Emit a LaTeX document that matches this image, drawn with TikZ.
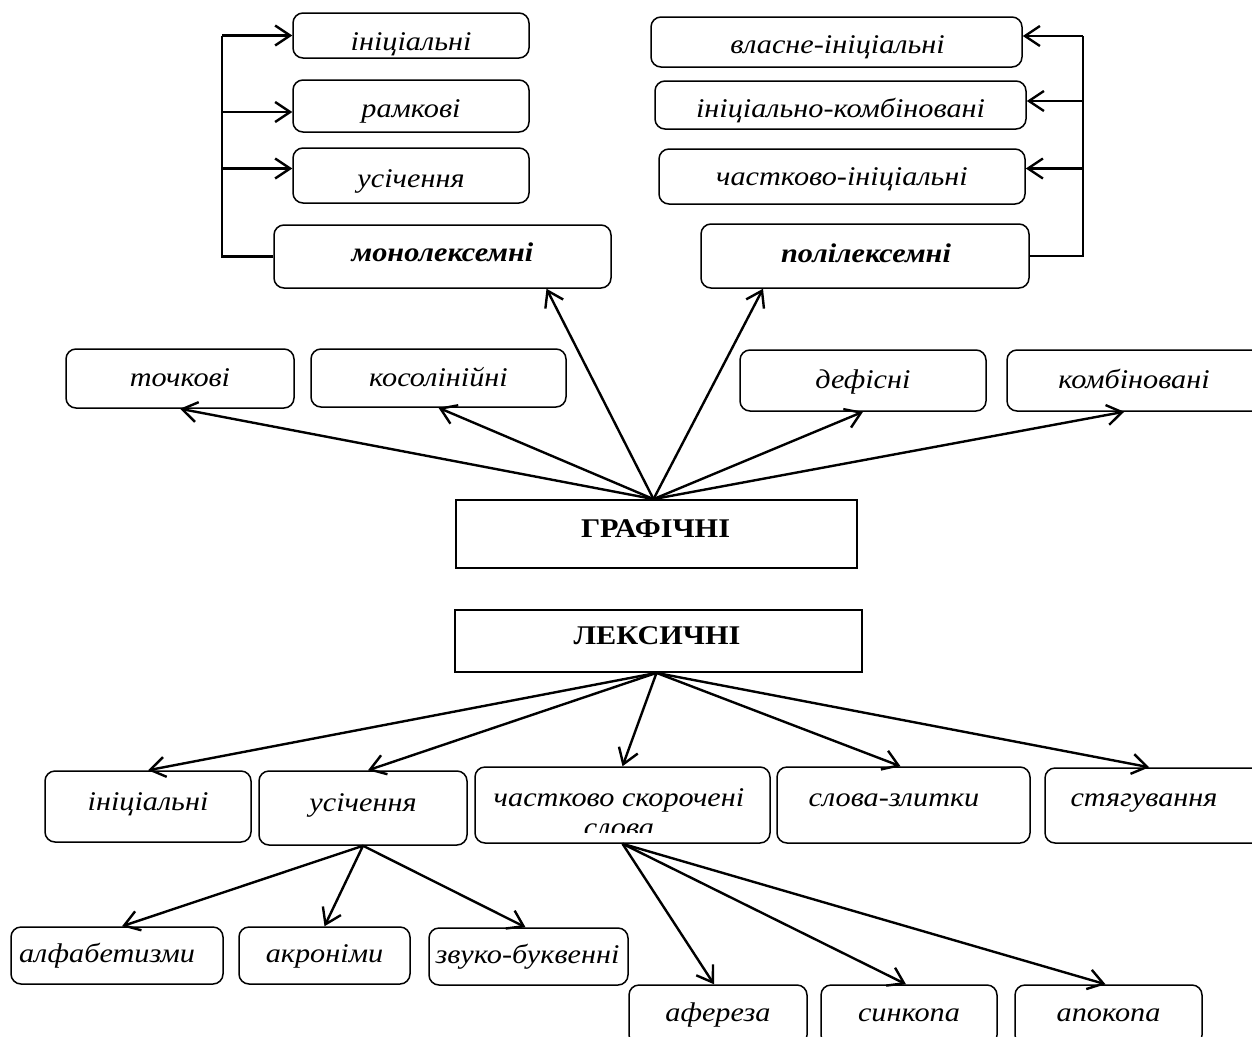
\documentclass[tikz,border=0pt]{standalone}
\usepackage{fontspec}
\setmainfont{Liberation Serif}[FakeStretch=1.12]
\usetikzlibrary{arrows.meta}
\tikzset{
  rbox/.style={draw, rounded corners=10pt, line width=1.5pt, inner sep=0pt,
    font=\fontsize{27}{31}\selectfont\itshape},
  sbox/.style={draw, line width=1.8pt, inner sep=0pt,
    font=\fontsize{27}{31}\selectfont\bfseries},
  lbl/.style={inner sep=0pt, font=\fontsize{27}{31}\selectfont\itshape},
  arr/.style={line width=2.4pt, -{Straight Barb[length=15pt,width=20pt]}},
  busl/.style={line width=2.4pt},
}
% #1 style, #2 name, #3 x1, #4 y1, #5 x2, #6 y2, #7 text dx, #8 text dy, #9 text
\newcommand\mkbox[9]{%
  \pgfmathsetmacro\mybw{#5-#3}\pgfmathsetmacro\mybh{#6-#4}%
  \pgfmathsetmacro\mycx{(#3+#5)/2}\pgfmathsetmacro\mycy{(#4+#6)/2}%
  \pgfmathsetmacro\mytth{22.4+2*(#8)}%
  \node[#1, minimum width=\mybw pt, minimum height=\mybh pt,
        text height=\mytth pt, text depth=6pt] (#2) at (\mycx,\mycy)
        {\hspace*{#7pt}\makebox[0pt]{#9}\hspace*{-#7pt}};}
\begin{document}
\begin{tikzpicture}[x=1pt,y=-1pt]
\useasboundingbox (0,0) rectangle (1252,1036);
\fill[white] (0,0) rectangle (1252,1036);
\clip (0,0) rectangle (1252,1036);

% top left
\mkbox{rbox}{a1}{293}{13}{529}{58}{0}{6.5}{ініціальні}
\mkbox{rbox}{a2}{293}{80}{529}{132}{0}{3}{рамкові}
\mkbox{rbox}{a3}{293}{148}{529}{203}{0}{4}{усічення}
\mkbox{rbox}{mono}{274}{225}{611}{288}{0}{-3}{\bfseries монолексемні}
% top right
\mkbox{rbox}{b1}{651}{17}{1022}{67}{1}{3}{власне-ініціальні}
\mkbox{rbox}{b2}{655}{81}{1026}{129}{0}{4}{ініціально-комбіновані}
\mkbox{rbox}{b3}{659}{149}{1025}{204}{0}{1}{частково-ініціальні}
\mkbox{rbox}{poly}{701}{224}{1029}{288}{1}{-2}{\bfseries полілексемні}
% middle row
\mkbox{rbox}{c1}{66}{349}{294}{408}{0}{0}{точкові}
\mkbox{rbox}{c2}{311}{349}{566}{407}{0}{0}{косолінійні}
\mkbox{rbox}{c3}{740}{350}{986}{411}{0}{0}{дефісні}
\mkbox{rbox}{c4}{1007}{350}{1270}{411}{-4.5}{0}{комбіновані}
% centre boxes
\mkbox{sbox}{graf}{456}{500}{857}{568}{-1}{-4.8}{ГРАФІЧНІ}
\mkbox{sbox}{lex}{455}{610}{862}{672}{-1.5}{-4.8}{ЛЕКСИЧНІ}
% lexical level
\mkbox{rbox}{d1}{45}{771}{251}{842}{0}{-4.5}{ініціальні}
\mkbox{rbox}{d2}{259}{771}{467}{845}{0}{-5}{усічення}
\mkbox{rbox}{d3}{475}{767}{770}{843}{0}{0}{}
\begin{scope}
  \clip (470,760) rectangle (780,832);
  \node[lbl, anchor=base] (d3a) at (619,806) {частково скорочені};
  \node[lbl, anchor=base] (d3b) at (619,836) {слова};
\end{scope}
\mkbox{rbox}{d4}{777}{767}{1030}{843}{-9.5}{-7}{слова-злитки}
\mkbox{rbox}{d5}{1045}{768}{1270}{843}{-13.5}{-7}{стягування}
% bottom rows
\mkbox{rbox}{e1}{11}{927}{223}{984}{-10}{-1}{алфабетизми}
\mkbox{rbox}{e2}{239}{927}{410}{984}{0}{-1}{акроніми}
\mkbox{rbox}{e3}{429}{928}{628}{985}{-1}{-1}{звуко-буквенні}
\mkbox{rbox}{f1}{629}{985}{807}{1045}{0}{-1.5}{афереза}
\mkbox{rbox}{f2}{821}{985}{997}{1045}{0}{-1.5}{синкопа}
\mkbox{rbox}{f3}{1015}{985}{1202}{1045}{0}{-1.5}{апокопа}

% buses
\coordinate (lbus) at (222,0);
\coordinate (rbus) at (1083,0);
\draw[busl] (mono.west) -- (mono.west -| lbus) -- (a1.west -| lbus);
\draw[arr] (a1.west -| lbus) -- (a1.west);
\draw[arr] ([yshift=-6pt]a2.west -| lbus) -- ([yshift=-6pt]a2.west);
\draw[arr] ([yshift=7pt]a3.west -| lbus) -- ([yshift=7pt]a3.west);
\draw[busl] (poly.east) -- (poly.east -| rbus) -- ([yshift=6pt]b1.east -| rbus);
\draw[arr] ([yshift=6pt]b1.east -| rbus) -- ([yshift=6pt]b1.east);
\draw[arr] ([yshift=4pt]b2.east -| rbus) -- ([yshift=4pt]b2.east);
\draw[arr] ([yshift=8pt]b3.east -| rbus) -- ([yshift=8pt]b3.east);

% graphic arrows
\coordinate (g0) at ([xshift=-3pt]graf.north);
\draw[arr] (g0) -- (c1.south);
\draw[arr] (g0) -- (c2.south);
\draw[arr] (g0) -- ([xshift=104pt]mono.south);
\draw[arr] (g0) -- ([xshift=-102pt]poly.south);
\draw[arr] (g0) -- (c3.south);
\draw[arr] (g0) -- ([xshift=118pt]c4.south west);

% lexical arrows
\coordinate (l0) at ([xshift=-2pt]lex.south);
\draw[arr] (l0) -- (d1.north);
\draw[arr] (l0) -- ([xshift=5pt]d2.north);
\draw[arr] (l0) -- (d3.north);
\draw[arr] (l0) -- ([xshift=-3pt]d4.north);
\draw[arr] (l0) -- ([xshift=105pt]d5.north west);

\draw[arr] (d2.south) -- ([xshift=5pt]e1.north);
\draw[arr] (d2.south) -- (e2.north);
\draw[arr] (d2.south) -- ([xshift=-3pt]e3.north);
\draw[arr] (d3.south) -- ([xshift=-4pt]f1.north);
\draw[arr] (d3.south) -- ([xshift=-3pt]f2.north);
\draw[arr] (d3.south) -- ([xshift=-3pt]f3.north);
\end{tikzpicture}
\end{document}
